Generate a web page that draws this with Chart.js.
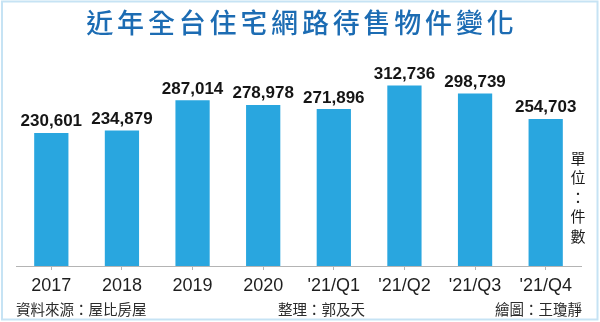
<!DOCTYPE html>
<html>
<head>
<meta charset="utf-8">
<script src="https://cdn.jsdelivr.net/npm/chart.js@4/dist/chart.umd.min.js"></script>
<style>
  html, body { margin: 0; padding: 0; background: #ffffff; }
  #chart { display: block; }
</style>
</head>
<body>
<canvas id="chart" width="600" height="322"></canvas>
<script>
// 近年全台住宅網路待售物件 (單位：件)
const categories = ['2017', '2018', '2019', '2020', "'21/Q1", "'21/Q2", "'21/Q3", "'21/Q4"];
const listings = [230601, 234879, 287014, 278978, 271896, 312736, 298739, 254703];

const titleText = '近年全台住宅網路待售物件變化';
const unitChars = ['單', '位', '：', '件', '數'];
const sourceText = '資料來源：屋比房屋';
const editorText = '整理：郭及天';
const artistText = '繪圖：王瓊靜';

const CJK = '"Noto Sans CJK TC", "Noto Sans CJK SC", sans-serif';
const LATIN = '"Liberation Sans", Arial, sans-serif';

// White card with a thin light-blue frame
const framePlugin = {
  id: 'frame',
  beforeDraw(chart) {
    const ctx = chart.ctx;
    ctx.save();
    ctx.fillStyle = '#ffffff';
    ctx.fillRect(0, 0, chart.width, chart.height);
    ctx.strokeStyle = '#c6e3f4';
    ctx.lineWidth = 2;
    ctx.strokeRect(2, 1.5, chart.width - 4.5, chart.height - 4);
    ctx.restore();
  }
};

// Numbers above each bar
const valueLabelPlugin = {
  id: 'valueLabels',
  afterDatasetsDraw(chart) {
    const ctx = chart.ctx;
    const meta = chart.getDatasetMeta(0);
    ctx.save();
    ctx.font = 'bold 17px ' + LATIN;
    ctx.fillStyle = '#151515';
    ctx.textAlign = 'center';
    ctx.textBaseline = 'alphabetic';
    meta.data.forEach((bar, i) => {
      ctx.fillText(listings[i].toLocaleString('en-US'), bar.x, bar.y - 6.5);
    });
    ctx.restore();
  }
};

// Title, unit note and credits
const textPlugin = {
  id: 'texts',
  afterDraw(chart) {
    const ctx = chart.ctx;
    ctx.save();

    // title with widened spacing
    ctx.font = '500 27px ' + CJK;
    ctx.fillStyle = '#1c6cb3';
    ctx.textBaseline = 'middle';
    ctx.textAlign = 'left';
    const spacing = 3.8;
    const widths = [...titleText].map(c => ctx.measureText(c).width);
    const total = widths.reduce((a, b) => a + b, 0) + spacing * (widths.length - 1);
    let x = chart.width / 2 - total / 2;
    [...titleText].forEach((c, i) => {
      ctx.fillText(c, x, 23);
      x += widths[i] + spacing;
    });

    // vertical unit note
    ctx.font = '15px ' + CJK;
    ctx.fillStyle = '#1a1a1a';
    ctx.textAlign = 'center';
    ctx.textBaseline = 'middle';
    unitChars.forEach((c, i) => {
      ctx.fillText(c, 578, 158 + i * 19.5);
    });

    // credits
    ctx.font = '14.5px ' + CJK;
    ctx.fillStyle = '#2a2a2a';
    ctx.textBaseline = 'alphabetic';
    ctx.textAlign = 'left';
    ctx.fillText(sourceText, 16, 315);
    ctx.fillText(editorText, 278, 315);
    ctx.textAlign = 'right';
    ctx.fillText(artistText, 582, 315);

    ctx.restore();
  }
};

new Chart(document.getElementById('chart'), {
  type: 'bar',
  data: {
    labels: categories,
    datasets: [{
      data: listings,
      backgroundColor: '#29a6df',
      borderWidth: 0,
      categoryPercentage: 1,
      barPercentage: 0.485
    }]
  },
  options: {
    responsive: false,
    animation: false,
    events: [],
    layout: { padding: { top: 64, left: 16, right: 19, bottom: 0 } },
    plugins: {
      legend: { display: false },
      title: { display: false },
      tooltip: { enabled: false }
    },
    scales: {
      y: {
        display: false,
        min: 0,
        max: 350000
      },
      x: {
        afterFit(scale) { scale.height = 56; },
        border: { display: true, color: '#b4b4b4', width: 1 },
        grid: {
          display: true,
          drawOnChartArea: false,
          drawTicks: true,
          tickLength: 4,
          tickColor: '#b4b4b4',
          offset: false
        },
        ticks: {
          color: '#1e1e1e',
          padding: 5,
          font: { family: LATIN, size: 18 }
        }
      }
    }
  },
  plugins: [framePlugin, valueLabelPlugin, textPlugin]
});
</script>
</body>
</html>
